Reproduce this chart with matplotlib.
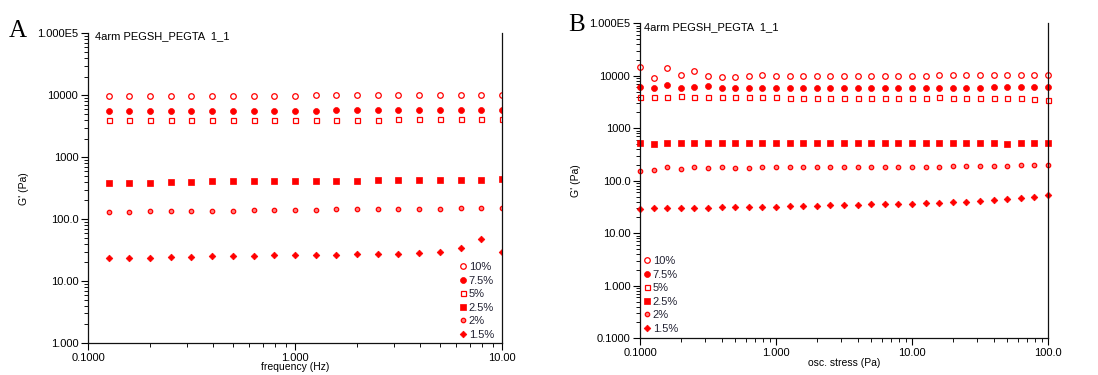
import numpy as np
import matplotlib
matplotlib.use("Agg")
import matplotlib.pyplot as plt
from matplotlib.ticker import LogLocator, NullFormatter, FixedLocator, FixedFormatter

plt.rcParams['font.family'] = ['Liberation Sans', 'DejaVu Sans']

# ---------------- data ----------------
series_labels = ["10%", "7.5%", "5%", "2.5%", "2%", "1.5%"]

freq_hz = [0.1259, 0.1585, 0.1995, 0.2512, 0.3162, 0.3981, 0.5012, 0.6310, 0.7943, 1.000,
           1.259, 1.585, 1.995, 2.512, 3.162, 3.981, 5.012, 6.310, 7.943, 10.00]
a_10 = [9800, 9800, 9800, 9800, 9800, 9900, 9900, 9900, 9900, 9900,
        9950, 9950, 9950, 9950, 9950, 9950, 9950, 10100, 10100, 10200]
a_75 = [5600, 5600, 5600, 5650, 5650, 5650, 5650, 5650, 5650, 5650,
        5650, 5700, 5750, 5750, 5750, 5750, 5750, 5750, 5750, 5750]
a_5 = [4050, 4050, 4050, 4050, 4050, 4050, 4050, 4050, 4050, 4050,
       4050, 4050, 4050, 4050, 4200, 4200, 4200, 4200, 4200, 4200]
a_25 = [390, 390, 390, 402, 402, 405, 418, 418, 420, 420,
        420, 420, 420, 425, 425, 430, 432, 432, 432, 450]
a_2 = [130, 131, 133, 133, 135, 136, 137, 138, 140, 140,
       141, 143, 143, 145, 145, 147, 147, 149, 151, 152]
a_15 = [23.5, 24, 24, 24.3, 24.7, 25, 25.3, 25.6, 26.2, 26.3,
        26.6, 26.6, 27, 27.3, 27.6, 28.6, 29.5, 34.5, 47.5, 29.7]

stress_pa = [0.1000, 0.1259, 0.1585, 0.1995, 0.2512, 0.3162, 0.3981, 0.5012, 0.6310, 0.7943,
             1.000, 1.259, 1.585, 1.995, 2.512, 3.162, 3.981, 5.012, 6.310, 7.943,
             10.00, 12.59, 15.85, 19.95, 25.12, 31.62, 39.81, 50.12, 63.10, 79.43, 100.0]
b_10 = [14500, 8900, 14200, 10400, 12500, 9900, 9600, 9600, 9900, 10300,
        9700, 9700, 9900, 9900, 9900, 10000, 10000, 10000, 10000, 10000,
        10050, 10050, 10200, 10200, 10300, 10300, 10300, 10300, 10300, 10300, 10300]
b_75 = [6100, 5950, 6700, 5850, 6100, 6400, 5900, 5800, 5950, 5850,
        5850, 5850, 5950, 5950, 5850, 5850, 5850, 5900, 5900, 5950,
        5950, 5950, 5950, 5950, 5950, 5950, 6000, 6000, 6050, 6050, 6050]
b_5 = [4000, 4000, 4000, 4100, 3900, 4000, 3900, 3900, 3900, 3900,
       3900, 3850, 3800, 3800, 3780, 3780, 3780, 3780, 3800, 3800,
       3800, 3800, 3900, 3800, 3800, 3780, 3750, 3700, 3700, 3620, 3500]
b_25 = [530, 505, 530, 530, 530, 530, 530, 530, 530, 530,
        530, 530, 530, 530, 530, 530, 530, 530, 530, 530,
        530, 530, 530, 530, 530, 530, 530, 510, 530, 530, 530]
b_2 = [154, 158, 186, 171, 181, 175, 180, 178, 178, 180,
       180, 182, 182, 182, 183, 185, 185, 185, 185, 185,
       186, 186, 186, 188, 188, 192, 192, 194, 196, 199, 203]
b_15 = [29.5, 29.7, 29.7, 29.7, 30, 30, 31.3, 31.3, 31.7, 31.7,
        32.2, 32.6, 33.2, 33.6, 34.1, 34.6, 35.2, 35.7, 35.7, 36.2,
        36.7, 37.2, 37.7, 38.9, 40.1, 41.3, 42.5, 44.5, 46.4, 49.2, 53]

a_yticks = [1, 10, 100, 1000, 10000, 100000]
a_ylabels = ["1.000", "10.00", "100.0", "1000", "10000", "1.000E5"]
a_xticks = [0.1, 1, 10]
a_xlabels = ["0.1000", "1.000", "10.00"]
b_yticks = [0.1, 1, 10, 100, 1000, 10000, 100000]
b_ylabels = ["0.1000", "1.000", "10.00", "100.0", "1000", "10000", "1.000E5"]
b_xticks = [0.1, 1, 10, 100]
b_xlabels = ["0.1000", "1.000", "10.00", "100.0"]

title = "4arm PEGSH_PEGTA  1_1"

# ---------------- styles ----------------
RED = "#ff0000"
styles = [
    dict(marker='o', markersize=4.0, markerfacecolor='none', markeredgecolor=RED, markeredgewidth=0.9),
    dict(marker='o', markersize=4.3, markerfacecolor=RED, markeredgecolor=RED, markeredgewidth=0.5),
    dict(marker='s', markersize=3.6, markerfacecolor='none', markeredgecolor=RED, markeredgewidth=0.9),
    dict(marker='s', markersize=4.0, markerfacecolor=RED, markeredgecolor=RED, markeredgewidth=0.5),
    dict(marker='o', markersize=3.2, markerfacecolor='#ff8080', markeredgecolor=RED, markeredgewidth=0.9),
    dict(marker='D', markersize=3.4, markerfacecolor=RED, markeredgecolor=RED, markeredgewidth=0.5),
]

W, H = 1098, 375
fig = plt.figure(figsize=(W / 100, H / 100), dpi=100)


def px_box(l, t, r, b):
    return [l / W, 1 - b / H, (r - l) / W, (b - t) / H]


def setup(ax, xlim, ylim, xt, xl, yt, yl, xlabel, xlabel_y):
    ax.set_xscale('log')
    ax.set_yscale('log')
    ax.set_xlim(*xlim)
    ax.set_ylim(*ylim)
    ax.spines['top'].set_visible(False)
    for s in ['left', 'right', 'bottom']:
        ax.spines[s].set_linewidth(0.9)
        ax.spines[s].set_color('#111111')
    ax.xaxis.set_major_locator(FixedLocator(xt))
    ax.xaxis.set_major_formatter(FixedFormatter(xl))
    ax.yaxis.set_major_locator(FixedLocator(yt))
    ax.yaxis.set_major_formatter(FixedFormatter(yl))
    ax.xaxis.set_minor_locator(LogLocator(base=10, subs=np.arange(2, 10), numticks=20))
    ax.yaxis.set_minor_locator(LogLocator(base=10, subs=np.arange(2, 10), numticks=20))
    ax.xaxis.set_minor_formatter(NullFormatter())
    ax.yaxis.set_minor_formatter(NullFormatter())
    ax.tick_params(which='major', direction='out', length=5, width=0.8, labelsize=8,
                   colors='#000000', pad=2)
    ax.tick_params(which='minor', direction='out', length=3, width=0.7, colors='#111111')
    ax.tick_params(axis='y', right=False)
    ax.set_xlabel(xlabel, fontsize=7.5)
    ax.xaxis.set_label_coords(0.5, xlabel_y)
    ax.set_ylabel("G' (Pa)", fontsize=7.5, labelpad=6)


def legend(handles, x, y):
    leg = fig.legend(handles=handles, labels=series_labels, loc='upper left',
                     bbox_to_anchor=(x / W, 1 - y / H), frameon=False, fontsize=8,
                     handlelength=0.5, handletextpad=0.3, labelspacing=0.32,
                     borderpad=0, borderaxespad=0)
    for t in leg.get_texts():
        t.set_color('#222233')


# Panel A
axA = fig.add_axes(px_box(88, 33.3, 502, 343))
ysA = [a_10, a_75, a_5, a_25, a_2, a_15]
hA = []
for ys, st in zip(ysA, styles):
    h, = axA.plot(freq_hz, ys, linestyle='none', **st)
    hA.append(h)
# label top should sit about 18 px below the axis (axis height 309.7 px)
setup(axA, (0.1, 10), (1, 1e5), a_xticks, a_xlabels, a_yticks, a_ylabels,
      "frequency (Hz)", -19.5 / 309.7)
legend(hA, 460, 262)

# Panel B
axB = fig.add_axes(px_box(640, 23.3, 1048, 338.3))
ysB = [b_10, b_75, b_5, b_25, b_2, b_15]
hB = []
for ys, st in zip(ysB, styles):
    h, = axB.plot(stress_pa, ys, linestyle='none', clip_on=False, **st)
    hB.append(h)
setup(axB, (0.1, 100), (0.1, 1e5), b_xticks, b_xlabels, b_yticks, b_ylabels,
      "osc. stress (Pa)", -19.5 / 315.0)
legend(hB, 644, 256)

# Titles and panel letters
fig.text(95 / W, 1 - 36 / H, title, fontsize=8, va='center', ha='left', color='#000000')
fig.text(644 / W, 1 - 27 / H, title, fontsize=8, va='center', ha='left', color='#000000')
fig.text(9 / W, 1 - 37 / H, "A", fontsize=18, family='Liberation Serif', va='baseline', ha='left')
fig.text(568 / W, 1 - 31 / H, "B", fontsize=18, family='Liberation Serif', va='baseline', ha='left')

fig.savefig("out.png", dpi=100)
